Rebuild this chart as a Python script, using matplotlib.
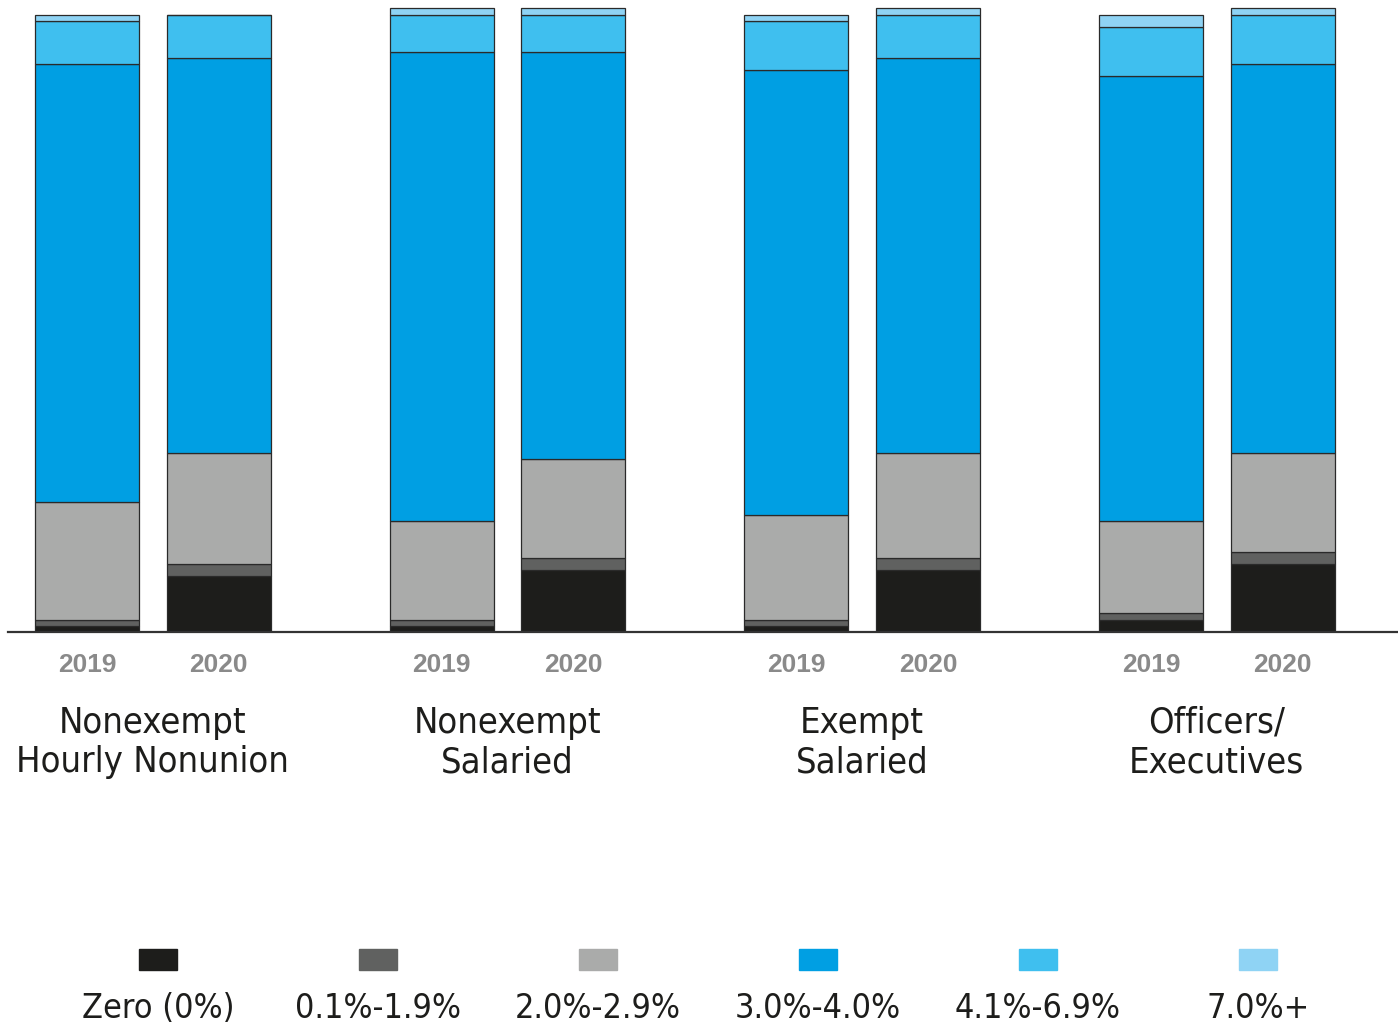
import numpy as np
import matplotlib.pyplot as plt
from matplotlib.patches import Rectangle

groups = ['Nonexempt\nHourly Nonunion', 'Nonexempt\nSalaried', 'Exempt\nSalaried', 'Officers/\nExecutives']
years = ['2019', '2020']
brackets = ['Zero (0%)', '0.1%-1.9%', '2.0%-2.9%', '3.0%-4.0%', '4.1%-6.9%', '7.0%+']
colors = ['#1d1d1b', '#606160', '#aaabaa', '#009fe3', '#3fbfef', '#8fd3f4']

# share of organisations per bracket, bars ordered group by group, 2019 then 2020
zero      = [1, 9, 1, 10, 1, 10, 2, 11]
low       = [1, 2, 1, 2, 1, 2, 1, 2]
mid       = [19, 18, 16, 16, 17, 17, 15, 16]
typical   = [71, 64, 76, 66, 72, 64, 72, 63]
high      = [7, 7, 6, 6, 8, 7, 8, 8]
very_high = [1, 0, 1, 1, 1, 1, 2, 1]
series = [zero, low, mid, typical, high, very_high]

fig = plt.figure(figsize=(13.98, 10.27), dpi=100)
ax = fig.add_axes([8 / 1398, 1 - 632 / 1027, 1 - 8 / 1398, 632 / 1027])

gap = 2.693
pos = []
for g in range(len(groups)):
    pos += [g * gap, g * gap + 1]
pos = np.array(pos)

bottom = np.zeros(len(pos))
for vals, c in zip(series, colors):
    vals = np.array(vals, dtype=float)
    ax.bar(pos, vals, bottom=bottom, width=0.79, color=c,
           edgecolor='#2a2a2a', linewidth=0.9)
    bottom += vals

ax.set_xlim(-0.6, 9.955)
ax.set_ylim(0, 102.35)
ax.set_yticks([])
for s in ['top', 'left', 'right']:
    ax.spines[s].set_visible(False)
ax.spines['bottom'].set_color('#333333')
ax.spines['bottom'].set_linewidth(1.6)

ax.set_xticks(pos)
ax.set_xticklabels(years * len(groups), fontsize=19, fontweight='bold',
                   color='#8a8a8a', family='Liberation Sans')
ax.tick_params(axis='x', length=0, pad=15)

for g, name in enumerate(groups):
    ax.text(g * gap + 0.5, -0.175, name, transform=ax.get_xaxis_transform(),
            ha='center', va='center', fontsize=26, color='#1d1d1b',
            family='DejaVu Sans', fontstretch='condensed', linespacing=1.2)

# legend row: swatch above each label
for i, (lab, c) in enumerate(zip(brackets, colors)):
    cx = (158 + i * 220) / 1398
    w, h = 38 / 1398, 21 / 1027
    fig.patches.append(Rectangle((cx - w / 2, 1 - 970 / 1027), w, h,
                                 transform=fig.transFigure, color=c))
    fig.text(cx, 1 - 1008 / 1027, lab, ha='center', va='center',
             fontsize=24.5, color='#1d1d1b', family='DejaVu Sans',
             fontstretch='condensed')

fig.savefig('out.png', dpi=100)
